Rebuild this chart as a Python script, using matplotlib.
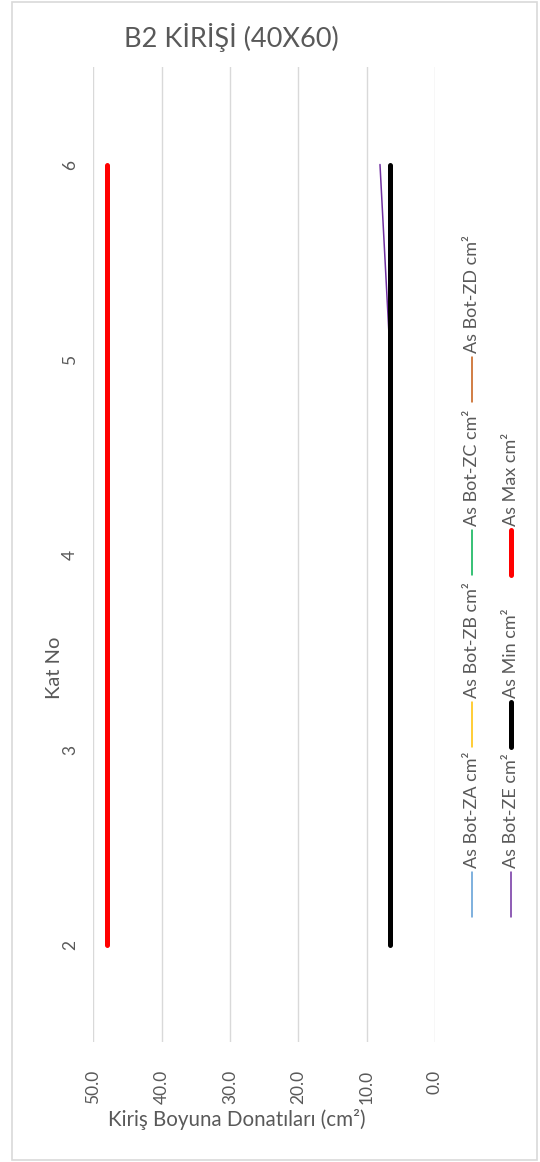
import matplotlib
matplotlib.use("Agg")
import matplotlib.pyplot as plt
from matplotlib.lines import Line2D
from matplotlib.patches import Rectangle

# Storey numbers and longitudinal reinforcement areas (cm²)
kat_no = [2, 3, 4, 5, 6]
as_bot_za = [6.54, 6.54, 6.54, 6.54, 6.54]
as_bot_zb = [6.54, 6.54, 6.54, 6.54, 6.54]
as_bot_zc = [6.54, 6.54, 6.54, 6.54, 6.54]
as_bot_zd = [6.54, 6.54, 6.54, 6.54, 6.54]
as_bot_ze = [6.54, 6.54, 6.54, 6.54, 8.05]
as_min = [6.54, 6.54, 6.54, 6.54, 6.54]
as_max = [48.0, 48.0, 48.0, 48.0, 48.0]

value_ticks = [0, 10, 20, 30, 40, 50]
title = "B2 KİRİŞİ (40X60)"
x_title = "Kiriş Boyuna Donatıları (cm²)"
y_title = "Kat No"

series = [
    ("As Bot-ZA cm²", as_bot_za, "#5B9BD5", 1.1),
    ("As Bot-ZB cm²", as_bot_zb, "#FFC000", 1.1),
    ("As Bot-ZC cm²", as_bot_zc, "#00B050", 1.1),
    ("As Bot-ZD cm²", as_bot_zd, "#C55A11", 1.1),
    ("As Bot-ZE cm²", as_bot_ze, "#7030A0", 1.1),
    ("As Min cm²", as_min, "#000000", 3.6),
    ("As Max cm²", as_max, "#FF0000", 3.6),
]

W, H = 540, 1162
TXT = "#595959"
plt.rcParams["font.family"] = ["Lato", "DejaVu Sans"]

fig = plt.figure(figsize=(W / 100, H / 100), dpi=100)


def fx(px):
    return px / W


def fy(py):
    return 1 - py / H


# outer chart frame
fig.patches.append(Rectangle((fx(12), fy(1160)), fx(537) - fx(12), fy(2) - fy(1160),
                             transform=fig.transFigure, fill=False,
                             edgecolor="#D9D9D9", linewidth=1.2))

left, right, top, bottom = 93.3, 435.0, 67.0, 1042.0
ax = fig.add_axes([fx(left), fy(bottom), fx(right) - fx(left), fy(top) - fy(bottom)])

for name, vals, color, lw in series:
    ax.plot(vals, kat_no, color=color, linewidth=lw, solid_capstyle="round", zorder=3)

ax.set_xlim(50, 0)
ax.set_ylim(1.5, 6.5)
ax.set_xticks(value_ticks)
ax.set_xticklabels([f"{v:.1f}" for v in value_ticks], rotation=90, color=TXT, fontsize=12.5)
ax.set_yticks(kat_no)
ax.set_yticklabels([str(k) for k in kat_no], rotation=90, color=TXT, fontsize=12.5,
                   va="center")
ax.tick_params(axis="x", length=0, pad=20)
ax.tick_params(axis="y", length=0, pad=11)
ax.grid(axis="x", color="#D9D9D9", linewidth=1.0, zorder=0)
for s in ax.spines.values():
    s.set_visible(False)

fig.text(fx(231), fy(37), title, ha="center", va="center", fontsize=19.5, color=TXT)
fig.text(fx(237), fy(1120), x_title, ha="center", va="center", fontsize=14.8, color=TXT)
fig.text(fx(55), fy(668), y_title, ha="center", va="center", rotation=90,
         fontsize=14.5, color=TXT)

# legend laid out in two rotated columns
legend_slots = [
    (472, 917), (472, 747), (472, 575), (472, 402),
    (510.5, 917), (510.5, 747), (510.5, 575),
]
handle_len = 45
for (name, vals, color, lw), (x, y0) in zip(series, legend_slots):
    fig.lines.append(Line2D([fx(x), fx(x)], [fy(y0), fy(y0 - handle_len)],
                            transform=fig.transFigure, color=color, linewidth=lw,
                            solid_capstyle="round"))
    fig.text(fx(x), fy(y0 - handle_len - 4), name, rotation=90, ha="center",
             va="bottom", fontsize=13, color=TXT)

fig.savefig("out.png", dpi=100, facecolor="white")
